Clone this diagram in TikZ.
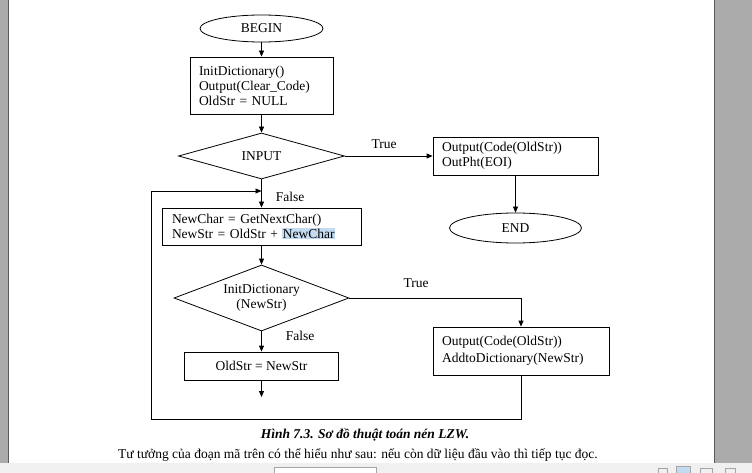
\documentclass[tikz,border=0pt]{standalone}
\usepackage{fontspec}
\setmainfont{Liberation Serif}
\usetikzlibrary{shapes.geometric,arrows.meta}
\definecolor{barGray}{HTML}{ABABAB}
\definecolor{barEdge}{HTML}{5A5A5A}
\definecolor{toolGray}{HTML}{F0F0F0}
\definecolor{hlBlue}{HTML}{C3DBF0}
\newcommand{\hlword}[1]{{\setlength{\fboxsep}{0.5pt}\colorbox{hlBlue}{#1}}}
\begin{document}
\begin{tikzpicture}[x=1pt,y=-1pt,
  txt/.style={font=\fontsize{13.5}{15}\selectfont},
  line/.style={draw=black,line width=0.8pt},
  arr/.style={line,-{Triangle[length=6pt,width=5pt]}},
  term/.style={txt,ellipse,line,inner sep=0pt},
  lbox/.style={txt,rectangle,line,inner xsep=9pt,inner ysep=0pt,align=left},
  cbox/.style={txt,rectangle,line,inner sep=0pt,align=center},
  cond/.style={txt,diamond,line,inner sep=0pt,aspect=2.8,align=center},
  lbl/.style={txt,inner sep=0pt}]
\useasboundingbox (0,0) rectangle (752,473);
\fill[white] (0,0) rectangle (752,473);
% window frame
\fill[barGray] (0,0) rectangle (8,463);
\draw[barEdge,line width=0.6pt] (8,0) -- (8,463);
\fill[barGray] (714,0) rectangle (752,463);
\draw[barEdge,line width=0.6pt] (714,0) -- (714,463);
\fill[toolGray] (0,463) rectangle (752,473);
\filldraw[fill=white,draw=gray!70] (274,467) rectangle (376,474);
\draw[gray!70,line width=0.5pt] (658,468) rectangle (667,474);
\filldraw[fill=hlBlue,draw=gray!70,line width=0.5pt] (676,466) rectangle (690,474);
\draw[gray!70,line width=0.5pt] (700,468) rectangle (712,474);
\draw[gray!70,line width=0.5pt] (725,468) rectangle (735,474);

% nodes
\node[term,minimum width=123pt,minimum height=27pt] (begin) at (261.5,28.5) {BEGIN};
\node[lbox,text width=125pt,minimum height=57pt] (init) at (261.5,85.5)
  {InitDictionary()\\Output(Clear\_Code)\\OldStr = NULL};
\node[cond,minimum width=166pt,minimum height=46pt] (input) at (261.5,156) {INPUT};
\node[lbox,text width=147pt,minimum height=38pt] (fin) at (515.5,156)
  {Output(Code(OldStr))\\OutPht(EOI)};
\node[term,minimum width=132pt,minimum height=30pt] (end) at (515.5,228) {END};
\node[lbox,inner xsep=10pt,text width=179pt,minimum height=37pt] (read) at (261.5,226.5)
  {NewChar = GetNextChar()\\NewStr = OldStr + \hlword{NewChar}};
\node[cond,minimum width=175pt,minimum height=66pt] (check) at (261.5,298)
  {InitDictionary\\(NewStr)};
\node[lbox,text width=158pt,minimum height=48pt] (emit) at (521,351)
  {Output(Code(OldStr))\\[2pt]AddtoDictionary(NewStr)};
\node[cbox,minimum width=154pt,minimum height=28pt] (assign) at (261.5,366) {OldStr = NewStr};

% labels
\node[lbl] (t1) at (384,144) {True};
\node[lbl] (f1) at (290,197) {False};
\node[lbl] (t2) at (416,283) {True};
\node[lbl] (f2) at (300,336) {False};

% helper coordinates
\coordinate (join) at (261.5,191);
\coordinate (loopT) at (151,191);
\coordinate (loopB) at (151,419);
\coordinate (tail) at (261.5,397);

% connectors
\draw[arr] (begin) -- (init);
\draw[arr] (init) -- (input);
\draw[arr] (input.east) -- (fin.west);
\draw[arr] (fin) -- (end);
\draw[arr] (input) -- (read);
\draw[arr] (read) -- (check);
\draw[arr] (check.east) -| (emit.north);
\draw[arr] (check) -- (assign);
\draw[arr] (assign) -- (tail);
\draw[line] (emit.south) |- (loopB) -- (loopT);
\draw[arr] (loopT) -- (join);

% caption and text
\node[txt,font=\fontsize{13.5}{15}\selectfont\bfseries\itshape] (cap) at (365,435)
  {Hình 7.3. Sơ đồ thuật toán nén LZW.};
\begin{scope}
\clip (0,0) rectangle (714,463);
\node[txt,anchor=base west,inner sep=0pt] (para) at (118,458)
  {Tư tưởng của đoạn mã trên có thể hiểu như sau: nếu còn dữ liệu đầu vào thì tiếp tục đọc.};
\end{scope}
\end{tikzpicture}
\end{document}
